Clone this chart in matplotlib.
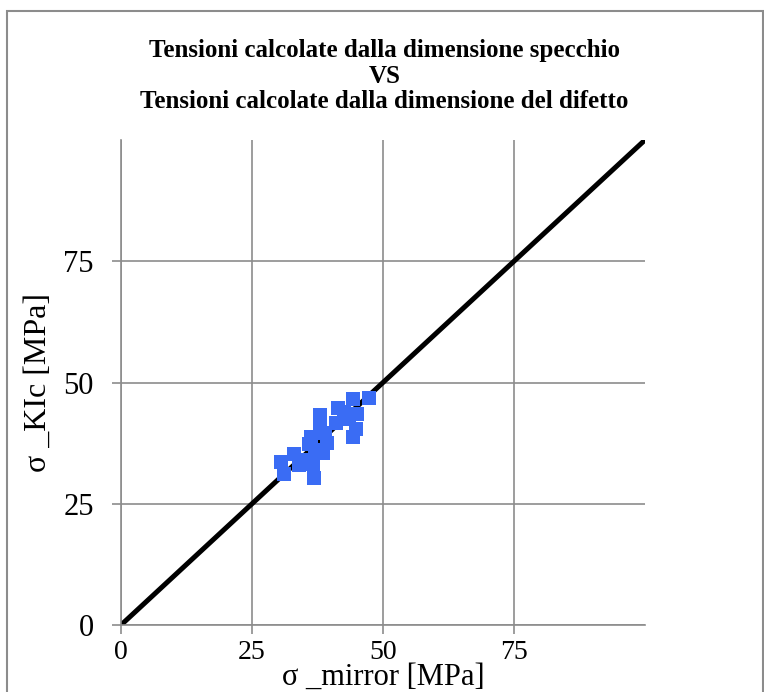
import matplotlib.pyplot as plt
from matplotlib.patches import Rectangle

plt.rcParams['font.family'] = ['Liberation Serif', 'DejaVu Serif']

sigma_mirror = [47.3, 44.3, 41.5, 45.1, 37.9, 38.0, 41.0, 44.3, 36.2, 35.9,
                39.4, 38.6, 33.1, 30.5, 31.2, 34.0, 36.9, 36.6, 43.5, 39.0,
                42.5, 44.8, 37.0, 34.5]
sigma_kic = [46.8, 46.7, 44.7, 43.6, 43.3, 41.6, 41.6, 38.7, 38.7, 37.3,
             37.6, 35.4, 35.3, 33.7, 31.1, 33.0, 30.4, 33.3, 42.5, 39.5,
             44.0, 40.5, 36.0, 34.0]
ticks = [0, 25, 50, 75]
line_xy = [0, 100]

fig = plt.figure(figsize=(7.64, 6.92), dpi=100)
ax = fig.add_axes([0.1584, 0.0968, 0.6858, 0.7009])

ax.plot(line_xy, line_xy, color='black', lw=3.6, zorder=2)
ax.plot(sigma_mirror, sigma_kic, 's', color='#3a6cf4', markersize=10,
        markeredgewidth=0, zorder=3)

ax.set_xlim(0, 100)
ax.set_ylim(0, 100)
ax.set_xticks(ticks)
ax.set_yticks(ticks)
ax.grid(True, color='#8c8c8c', lw=1.2, zorder=0)
ax.set_axisbelow(True)
for s in ['top', 'right']:
    ax.spines[s].set_visible(False)
for s in ['left', 'bottom']:
    ax.spines[s].set_color('#8c8c8c')
    ax.spines[s].set_linewidth(1.2)
ax.tick_params(direction='out', length=6.5, width=1.2, color='#8c8c8c')
ax.tick_params(axis='y', labelsize=22, pad=13)
ax.tick_params(axis='x', labelsize=20, pad=4)

fig.text(0.503, 0.890, 'Tensioni calcolate dalla dimensione specchio\nVS\n'
         'Tensioni calcolate dalla dimensione del difetto',
         ha='center', va='center', fontsize=18, fontweight='bold',
         linespacing=1.15)
fig.text(0.502, 0.0, 'σ _mirror [MPa]', ha='center', va='bottom', fontsize=22)
fig.text(0.050, 0.447, 'σ _KIc [MPa]', ha='center', va='center',
         rotation=90, fontsize=23)

fig.patches.append(Rectangle((0.009, -0.01), 0.99, 0.994, transform=fig.transFigure,
                             fill=False, edgecolor='#8c8c8c', lw=1.5))

fig.savefig('out.png', dpi=100)
